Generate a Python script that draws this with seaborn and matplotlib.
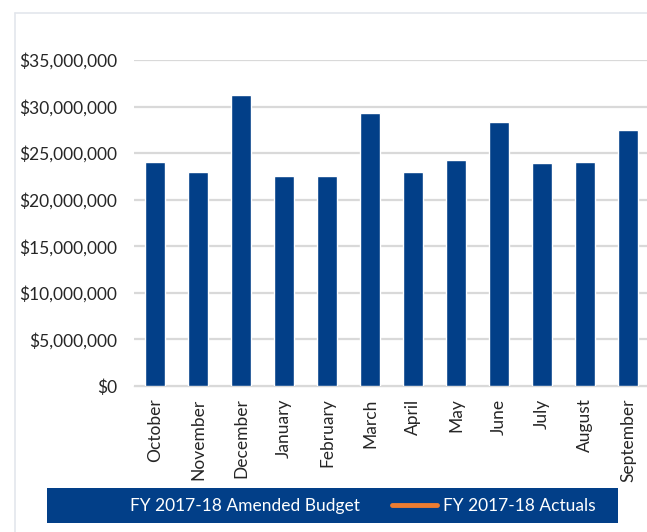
import matplotlib
matplotlib.use("Agg")
import matplotlib.pyplot as plt
import seaborn as sns
import pandas as pd
from matplotlib.patches import Patch, Rectangle
from matplotlib.lines import Line2D
from matplotlib.ticker import FuncFormatter, FixedLocator

months = ["October", "November", "December", "January", "February", "March",
          "April", "May", "June", "July", "August", "September"]
budget = [24.08e6, 22.94e6, 31.28e6, 22.58e6, 22.58e6, 29.31e6,
          22.94e6, 24.26e6, 28.34e6, 23.94e6, 24.08e6, 27.52e6]
series_names = ["FY 2017-18 Amended Budget", "FY 2017-18 Actuals"]
yticks = [0, 5e6, 10e6, 15e6, 20e6, 25e6, 30e6, 35e6]

BLUE = "#023F88"
ORANGE = "#ED7D31"
GRID = "#D9D9D9"
FS = 12.5

sns.set_theme(style="white")
plt.rcParams["font.family"] = ["Lato", "DejaVu Sans"]

W, H = 647, 532
fig = plt.figure(figsize=(W / 100, H / 100), dpi=100)
ax = fig.add_axes([133.5 / W, 1 - 386 / H, 516 / W, 326 / H])

df = pd.DataFrame({"month": months, "value": budget})
sns.barplot(data=df, x="month", y="value", color=BLUE, width=0.45,
            saturation=1, ax=ax, zorder=3)

ax.set_xlim(-0.5, len(months) - 0.5)
ax.set_ylim(0, 35e6)
ax.set_yticks(yticks)
ax.yaxis.set_major_formatter(FuncFormatter(lambda v, p: "${:,.0f}".format(v)))
ax.yaxis.grid(True, color=GRID, linewidth=1.6, zorder=0)
ax.set_axisbelow(True)
ax.set_xlabel("")
ax.set_ylabel("")

ax.set_xticks(range(len(months)))
ax.set_xticklabels(months, rotation=90, fontsize=FS, color="#262626")
ax.tick_params(axis="x", which="major", length=0, pad=9)
ax.xaxis.set_minor_locator(FixedLocator([i - 0.5 for i in range(len(months) + 1)]))
ax.tick_params(axis="x", which="minor", length=6, width=1, color=GRID, direction="out")
ax.tick_params(axis="y", length=0, labelsize=FS, labelcolor="#262626", pad=12)

for s in ["top", "right", "left"]:
    ax.spines[s].set_visible(False)
ax.spines["bottom"].set_color(GRID)
ax.spines["bottom"].set_linewidth(1)

# outer chart border
fig.add_artist(Line2D([15 / W, 15 / W], [0, 1 - 13 / H], transform=fig.transFigure,
                      color="#E3E6EC", linewidth=1.2))
fig.add_artist(Line2D([15 / W, 1], [1 - 13 / H, 1 - 13 / H], transform=fig.transFigure,
                      color="#E3E6EC", linewidth=1.2))

# legend background box
fig.add_artist(Rectangle((47 / W, 1 - 523 / H), (618 - 47) / W, 35 / H,
                         transform=fig.transFigure, facecolor=BLUE, edgecolor="none",
                         zorder=1))
handles = [Patch(facecolor=BLUE, edgecolor=BLUE),
           Line2D([0], [0], color=ORANGE, linewidth=3.5, solid_capstyle="round")]
leg = fig.legend(handles, series_names, ncol=2, frameon=False, fontsize=FS,
                 loc="center left", bbox_to_anchor=(80 / W, 1 - 506 / H),
                 handlelength=2.6, handletextpad=0.3, columnspacing=1.85,
                 borderpad=0, borderaxespad=0)
for t in leg.get_texts():
    t.set_color("white")
leg.set_zorder(5)

fig.savefig("out.png", dpi=100)
